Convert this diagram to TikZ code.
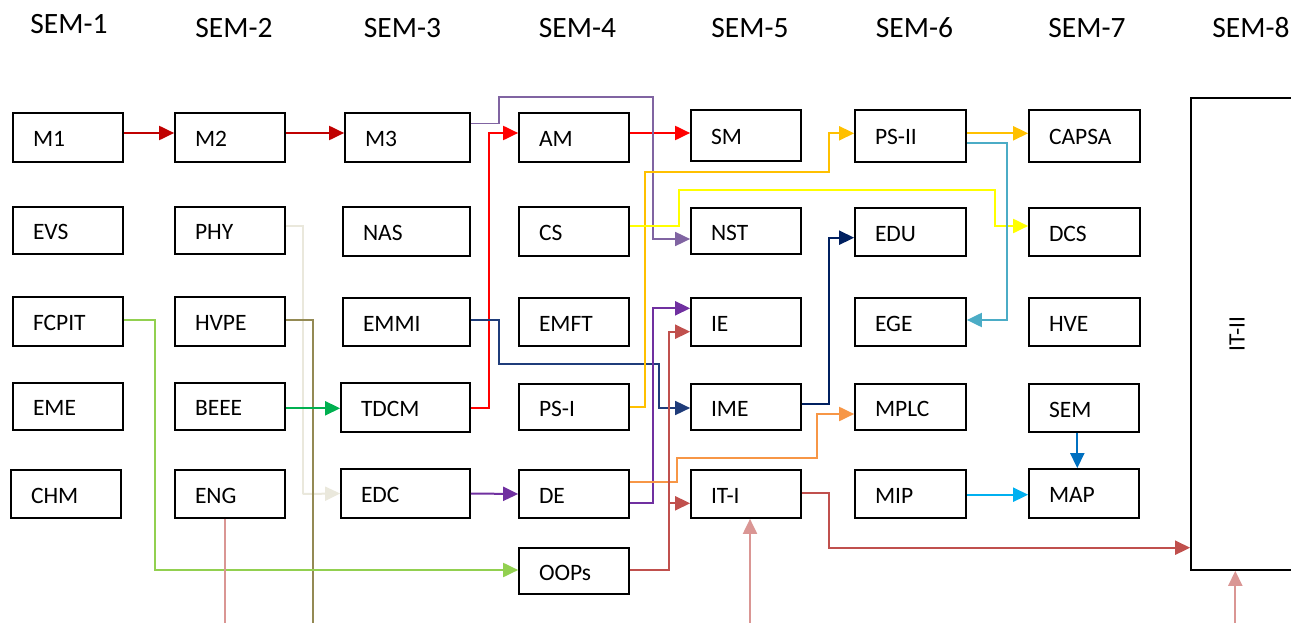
\documentclass[tikz,border=0pt]{standalone}
\usepackage{fontspec}
\setmainfont{Carlito}
\usetikzlibrary{arrows.meta}
\definecolor{cdarkred}{HTML}{C00000}
\definecolor{cred}{HTML}{FF0000}
\definecolor{clilac}{HTML}{8064A2}
\definecolor{cpurple}{HTML}{7030A0}
\definecolor{cgold}{HTML}{FFC000}
\definecolor{cyellow}{HTML}{FFFF00}
\definecolor{cteal}{HTML}{4BACC6}
\definecolor{cnavy}{HTML}{002060}
\definecolor{cnavyb}{HTML}{1F3C7A}
\definecolor{cgreen}{HTML}{00B050}
\definecolor{cbeige}{HTML}{EAE8DC}
\definecolor{colive}{HTML}{948A54}
\definecolor{clgreen}{HTML}{92D050}
\definecolor{cpink}{HTML}{DA9694}
\definecolor{corange}{HTML}{F79646}
\definecolor{cbrick}{HTML}{C0504D}
\definecolor{cblue}{HTML}{0070C0}
\definecolor{ccyan}{HTML}{00B0F0}
\begin{document}
\begin{tikzpicture}[x=1pt,y=-1pt,
  box/.style={draw, line width=1.7pt, rectangle, inner xsep=20pt, inner ysep=0pt,
    align=left, font=\fontsize{23.5}{25}\selectfont, text height=18pt, text depth=0pt},
  hdr/.style={font=\fontsize{29.5}{31}\selectfont, inner sep=0pt},
  conn/.style={line width=2pt, -{Triangle[length=15pt,width=14pt]}},
  lead/.style={line width=2pt}]
\useasboundingbox (0,0) rectangle (1291,623);
% headers
\node[hdr] (h1) at (69,24.5) {SEM-1};
\node[hdr] (h2) at (234,28) {SEM-2};
\node[hdr] (h3) at (402.5,28) {SEM-3};
\node[hdr] (h4) at (577.5,28) {SEM-4};
\node[hdr] (h5) at (750,28) {SEM-5};
\node[hdr] (h6) at (914.5,28) {SEM-6};
\node[hdr] (h7) at (1087,28) {SEM-7};
\node[hdr] (h8) at (1251,28) {SEM-8};
% column 1
\node[box,minimum height=49pt,text width=70pt] (M1) at (68,137.5) {M1};
\node[box,minimum height=47pt,text width=70pt] (EVS) at (68,230.5) {EVS};
\node[box,minimum height=49pt,text width=70pt] (FCPIT) at (68,321.5) {FCPIT};
\node[box,minimum height=47pt,text width=70pt] (EME) at (68,406.5) {EME};
\node[box,minimum height=48pt,text width=70pt] (CHM) at (66,494) {CHM};
% column 2
\node[box,minimum height=49pt,text width=70pt] (M2) at (230,137.5) {M2};
\node[box,minimum height=47pt,text width=70pt] (PHY) at (230,230.5) {PHY};
\node[box,minimum height=49pt,text width=70pt] (HVPE) at (230,321.5) {HVPE};
\node[box,minimum height=47pt,text width=70pt] (BEEE) at (230,406.5) {BEEE};
\node[box,minimum height=48pt,text width=70pt] (ENG) at (230,494) {ENG};
% column 3
\node[box,minimum height=49pt,text width=85pt] (M3) at (407.5,137.5) {M3};
\node[box,minimum height=49pt,text width=87pt] (NAS) at (406.5,231.5) {NAS};
\node[box,minimum height=48pt,text width=87pt] (EMMI) at (406.5,322) {EMMI};
\node[box,minimum height=49pt,text width=89pt] (TDCM) at (405.5,407.5) {TDCM};
\node[box,minimum height=49pt,text width=89pt] (EDC) at (405.5,493.5) {EDC};
% column 4
\node[box,minimum height=49pt,text width=70pt] (AM) at (574,137.5) {AM};
\node[box,minimum height=49pt,text width=70pt] (CS) at (574,231.5) {CS};
\node[box,minimum height=48pt,text width=70pt] (EMFT) at (574,322) {EMFT};
\node[box,minimum height=46pt,text width=70pt] (PSI) at (574,407) {PS-I};
\node[box,minimum height=48pt,text width=70pt] (DE) at (574,494) {DE};
\node[box,minimum height=46pt,text width=70pt] (OOPs) at (574,571) {OOPs};
% column 5
\node[box,minimum height=51pt,text width=70pt] (SM) at (746,135.5) {SM};
\node[box,minimum height=46pt,text width=70pt] (NST) at (746,231) {NST};
\node[box,minimum height=48pt,text width=70pt] (IE) at (746,322) {IE};
\node[box,minimum height=46pt,text width=70pt] (IME) at (746,407) {IME};
\node[box,minimum height=48pt,text width=70pt] (ITI) at (746,494) {IT-I};
% column 6
\node[box,minimum height=52pt,text width=71pt] (PSII) at (910.5,136) {PS-II};
\node[box,minimum height=48pt,text width=71pt] (EDU) at (910.5,232) {EDU};
\node[box,minimum height=48pt,text width=71pt] (EGE) at (910.5,322) {EGE};
\node[box,minimum height=46pt,text width=71pt] (MPLC) at (910.5,407) {MPLC};
\node[box,minimum height=48pt,text width=71pt] (MIP) at (910.5,494) {MIP};
% column 7
\node[box,minimum height=52pt,text width=71pt] (CAPSA) at (1084.5,136) {CAPSA};
\node[box,minimum height=48pt,text width=71pt] (DCS) at (1084.5,232) {DCS};
\node[box,minimum height=48pt,text width=71pt] (HVE) at (1084.5,322) {HVE};
\node[box,minimum height=48pt,text width=70pt] (SEM) at (1084,408) {SEM};
\node[box,minimum height=49pt,text width=70pt] (MAP) at (1084,493.5) {MAP};
% IT-II
\node[draw,line width=1.7pt,minimum width=110pt,minimum height=472pt,inner sep=0pt] (IT2) at (1246,334) {};
\node[rotate=90,font=\fontsize{23.5}{25}\selectfont,inner sep=0pt] (IT2t) at (1237,334) {IT-II};
% free ends at the bottom edge
\coordinate (engEnd) at (225.3,623);
\coordinate (hvpeEnd) at (313.3,623);
\coordinate (itiIn) at (750,623);
\coordinate (it2In) at (1235.3,623);
% connectors
\draw[conn,cdarkred] ([yshift=4.5pt]M1.east) -- ([yshift=4.5pt]M2.west);
\draw[conn,cdarkred] ([yshift=4.5pt]M2.east) -- ([yshift=4.5pt]M3.west);
\draw[lead,cbeige] ([yshift=4.5pt]PHY.east) -| (302.7,494);
\draw[conn,cbeige] (302.7,494) -- (EDC.west);
\draw[lead,colive] ([yshift=1.5pt]HVPE.east) -| (hvpeEnd);
\draw[conn,cgreen] ([yshift=-1.8pt]BEEE.east) -- ([yshift=-0.8pt]TDCM.west);
\draw[conn,clgreen] ([yshift=1.5pt]FCPIT.east) -| (154.7,570) -- ([yshift=1pt]OOPs.west);
\draw[lead,cpink] ([xshift=-4.7pt]ENG.south) -- (engEnd);
\draw[conn,cred] (TDCM.east) -| (488.7,133) -- ([yshift=4.5pt]AM.west);
\draw[conn,cred] ([yshift=4.5pt]AM.east) -- ([yshift=2.5pt]SM.west);
\draw[conn,cnavyb,line width=1.7pt] ([yshift=2pt]EMMI.east) -| (499,364) -| (659,408) -- ([yshift=-1pt]IME.west);
\draw[conn,clilac,line width=1.7pt] ([yshift=14pt]M3.east) -| (499,97.3) -- (653.3,97.3) |- ([yshift=-8pt]NST.west);
\draw[conn,cpurple] (EDC.east) -- (DE.west);
\draw[conn,cgold] (PSI.east) -| (645,172.3) -| (829.3,133.3) -- ([yshift=2.7pt]PSII.west);
\draw[conn,cyellow] ([yshift=5.8pt]CS.east) -| (678.7,190) -| (995,226) -- ([yshift=6pt]DCS.west);
\draw[conn,cpurple] ([yshift=-9.3pt]DE.east) -| (653.3,308.3) -- ([yshift=13.7pt]IE.west);
\draw[conn,corange] ([yshift=12.3pt]DE.east) -| (677.3,458.3) -| (817.3,414) -- ([yshift=-7pt]MPLC.west);
\draw[conn,cbrick] ([yshift=1pt]OOPs.east) -| (669,331.7) -- ([yshift=-9.7pt]IE.west);
\draw[conn,cbrick] (669,503.3) -- ([yshift=-9.3pt]ITI.west);
\draw[conn,cnavy] ([yshift=2.7pt]IME.east) -| (829,237.7) -- ([yshift=-5.7pt]EDU.west);
\draw[conn,cbrick] ([yshift=0.7pt]ITI.east) -| (829,547.7) -- ([yshift=-213.7pt]IT2.west);
\draw[conn,cpink] (itiIn) -- ([xshift=4pt]ITI.south);
\draw[conn,cpink] (it2In) -- ([xshift=-10.7pt]IT2.south);
\draw[conn,cgold] ([yshift=2.7pt]PSII.east) -- ([yshift=2.7pt]CAPSA.west);
\draw[conn,cteal] ([yshift=-7.5pt]PSII.east) -| (1007,320) -- ([yshift=2pt]EGE.east);
\draw[conn,cblue] ([xshift=-6.7pt]SEM.south) -- ([xshift=-6.7pt]MAP.north);
\draw[conn,ccyan] ([yshift=-0.7pt]MIP.east) -- ([yshift=-1.2pt]MAP.west);
\end{tikzpicture}
\end{document}
